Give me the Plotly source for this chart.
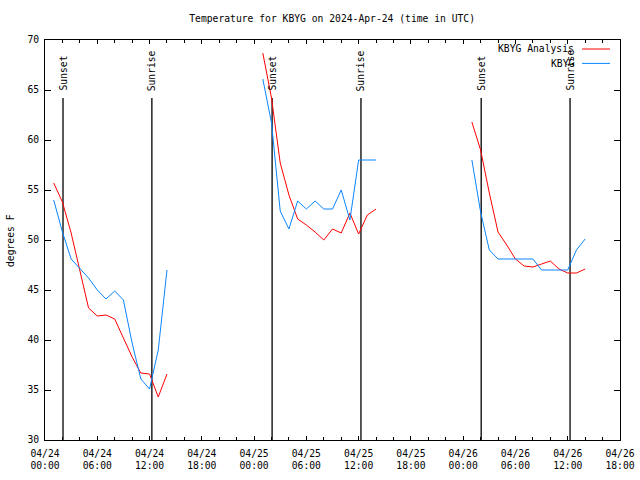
import plotly.graph_objects as go
import pandas as pd

# ---- data ----
seg_start = ["2024-04-24 01:00", "2024-04-25 01:00", "2024-04-26 01:00"]
analysis_vals = [
    [55.7, 53.8, 50.7, 47.0, 43.2, 42.4, 42.5, 42.1, 40.2, 38.3, 36.7, 36.6, 34.3, 36.6],
    [68.7, 64.2, 57.7, 54.5, 52.1, 51.5, 50.8, 50.0, 51.1, 50.7, 52.7, 50.6, 52.5, 53.1],
    [61.8, 59.0, 54.7, 50.8, 49.5, 48.1, 47.4, 47.3, 47.6, 47.9, 47.1, 46.7, 46.7, 47.1],
]
obs_vals = [
    [54.0, 50.8, 48.1, 47.2, 46.2, 45.0, 44.1, 44.9, 44.0, 39.7, 36.1, 35.1, 39.0, 47.0],
    [66.1, 61.7, 52.9, 51.1, 53.9, 53.1, 53.9, 53.1, 53.1, 55.0, 52.0, 58.0, 58.0, 58.0],
    [58.0, 52.8, 49.0, 48.1, 48.1, 48.1, 48.1, 48.1, 47.0, 47.0, 47.0, 47.0, 49.0, 50.1],
]
sunset_times = ["2024-04-24 02:04", "2024-04-25 02:04", "2024-04-26 02:04"]
sunrise_times = ["2024-04-24 12:16", "2024-04-25 12:16", "2024-04-26 12:16"]
tick_vals = pd.date_range("2024-04-24 00:00", "2024-04-26 18:00", freq="6h")
tick_text = [t.strftime("%m/%d<br>%H:%M") for t in tick_vals]
y_ticks = [30, 35, 40, 45, 50, 55, 60, 65, 70]

FONT = "DejaVu Sans Mono"
RED = "#ff0000"
BLUE = "#0a85ff"


def build(series):
    xs, ys = [], []
    for start, vals in zip(seg_start, series):
        times = pd.date_range(start, periods=len(vals), freq="1h")
        xs += list(times) + [None]
        ys += list(vals) + [None]
    return xs, ys


fig = go.Figure()

shapes = []
annotations = []
for label, times in (("Sunset", sunset_times), ("Sunrise", sunrise_times)):
    for t in times:
        shapes.append(dict(type="line", xref="x", yref="y", x0=t, x1=t, y0=30, y1=64.2,
                           line=dict(color="black", width=1.3), layer="below"))
        annotations.append(dict(x=t, y=64.7, xref="x", yref="y", text=label, textangle=-90,
                                showarrow=False, xanchor="center", yanchor="bottom",
                                font=dict(family=FONT, size=9.7, color="black")))

xa, ya = build(analysis_vals)
xo, yo = build(obs_vals)
fig.add_trace(go.Scatter(x=xa, y=ya, mode="lines", name="KBYG Analysis",
                         line=dict(color=RED, width=1), connectgaps=False, showlegend=False))
fig.add_trace(go.Scatter(x=xo, y=yo, mode="lines", name="KBYG",
                         line=dict(color=BLUE, width=1), connectgaps=False, showlegend=False))

# legend (gnuplot style: text right-aligned, sample on the right)
for i, (name, col) in enumerate((("KBYG Analysis", RED), ("KBYG", BLUE))):
    yp = 0.9775 - i * 0.036
    annotations.append(dict(x=0.9235, y=yp, xref="paper", yref="paper", text=name,
                            showarrow=False, xanchor="right", yanchor="middle",
                            font=dict(family=FONT, size=9.7, color="black")))
    shapes.append(dict(type="line", xref="paper", yref="paper", x0=0.934, x1=0.9826,
                       y0=yp, y1=yp, line=dict(color=col, width=1)))

# y-axis title (rotated), placed left of the tick labels
annotations.append(dict(x=-0.0609, y=0.5, xref="paper", yref="paper", text="degrees F",
                        textangle=-90, showarrow=False, xanchor="center", yanchor="middle",
                        font=dict(family=FONT, size=9.7, color="black")))

fig.update_layout(
    width=640, height=480,
    margin=dict(l=45, r=20, t=40, b=40, autoexpand=False),
    paper_bgcolor="white", plot_bgcolor="white",
    font=dict(family=FONT, size=9.7, color="black"),
    title=dict(text="Temperature for KBYG on 2024-Apr-24 (time in UTC)", x=0.519, xanchor="center",
               y=0.9604, yanchor="middle", font=dict(family=FONT, size=9.7)),
    shapes=shapes, annotations=annotations,
    showlegend=False,
)
fig.update_xaxes(type="date", range=["2024-04-24 00:00", "2024-04-26 18:00"],
                 tickmode="array", tickvals=list(tick_vals), ticktext=tick_text,
                 ticks="inside", ticklen=4, tickcolor="black", showline=True, linecolor="black",
                 linewidth=1, mirror="ticks", showgrid=False, zeroline=False,
                 ticklabelstandoff=4, automargin=False,
                 minor=dict(dtick=7200000, tick0="2024-04-24 00:00", ticks="inside", ticklen=3,
                            tickcolor="black", showgrid=False),
                 tickfont=dict(family=FONT, size=9.7))
fig.update_yaxes(range=[30, 70], tickmode="array", tickvals=y_ticks,
                 ticks="inside", ticklen=6, tickcolor="black", showline=True, linecolor="black",
                 linewidth=1, mirror="ticks", showgrid=False, zeroline=False,
                 ticklabelstandoff=3, automargin=False,
                 tickfont=dict(family=FONT, size=9.7))

# remove the default 8px page margin so the 640x480 figure fills the window exactly
fig.write_html("out.html", config={"displayModeBar": False},
               post_script="document.body.style.margin='0px';document.body.style.overflow='hidden';")
